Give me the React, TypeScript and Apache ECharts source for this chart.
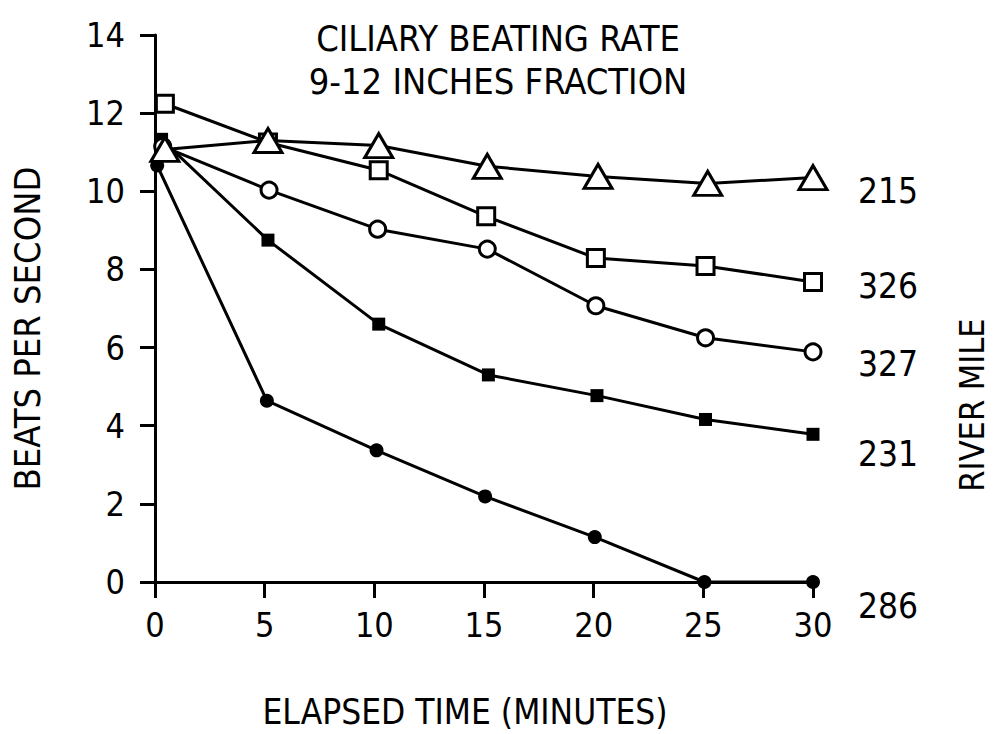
import React, { useEffect, useRef } from "react";
import * as echarts from "echarts";

const FONT = "'DejaVu Sans Condensed', 'Liberation Sans Narrow', sans-serif";

const titleLines = ["CILIARY BEATING RATE", "9-12 INCHES FRACTION"];
const xTicks = [0, 5, 10, 15, 20, 25, 30];
const yTicks = [0, 2, 4, 6, 8, 10, 12, 14];

// River mile 215 (open triangles)
const rm215: [number, number][] = [
  [0.45, 11.07], [5.15, 11.3], [10.2, 11.17], [15.15, 10.64], [20.2, 10.38], [25.2, 10.2], [30.0, 10.35],
];
// River mile 326 (open squares)
const rm326: [number, number][] = [
  [0.45, 12.24], [5.15, 11.25], [10.2, 10.54], [15.1, 9.36], [20.1, 8.29], [25.1, 8.09], [30.0, 7.68],
];
// River mile 327 (open circles)
const rm327: [number, number][] = [
  [0.35, 11.15], [5.2, 10.03], [10.15, 9.03], [15.15, 8.52], [20.1, 7.07], [25.1, 6.25], [30.0, 5.89],
];
// River mile 231 (filled squares)
const rm231: [number, number][] = [
  [0.3, 11.33], [5.15, 8.75], [10.2, 6.6], [15.2, 5.3], [20.15, 4.77], [25.1, 4.16], [30.0, 3.78],
];
// River mile 286 (filled circles)
const rm286: [number, number][] = [
  [0.1, 10.66], [5.1, 4.64], [10.1, 3.37], [15.05, 2.19], [20.05, 1.15], [25.05, 0], [30.0, 0],
];

const riverLabels = ["215", "326", "327", "231", "286"];
const riverLabelY = [192, 287, 365, 455, 607];

export default function App() {
  const ref = useRef<HTMLDivElement>(null);
  useEffect(() => {
    if (!ref.current) return;
    const chart = echarts.init(ref.current, undefined, { renderer: "svg" });
    const lineStyle = { color: "#000", width: 3 };
    const openItem = { color: "#fff", borderColor: "#000", borderWidth: 3 };
    const filledItem = { color: "#000", borderColor: "#000", borderWidth: 0 };
    const mk = (name: string, data: [number, number][], symbol: string, size: any, item: any) => ({
      name,
      type: "line",
      data,
      symbol,
      symbolSize: size,
      showAllSymbol: true,
      clip: false,
      lineStyle,
      itemStyle: item,
      emphasis: { disabled: true },
      z: 3,
    });
    chart.setOption({
      animation: false,
      backgroundColor: "#fff",
      title: {
        text: titleLines.join("\n"),
        left: 493,
        top: 12,
        textAlign: "center",
        textStyle: { fontFamily: FONT, fontSize: 36, fontWeight: "normal", color: "#000", lineHeight: 43 },
      },
      grid: { left: 155, right: 181, top: 35, bottom: 150 },
      xAxis: {
        type: "value",
        min: xTicks[0],
        max: xTicks[xTicks.length - 1],
        interval: 5,
        name: "ELAPSED TIME (MINUTES)",
        nameLocation: "middle",
        nameGap: 112,
        nameTextStyle: { fontFamily: FONT, fontSize: 35, color: "#000", padding: [0, 38, 0, 0] },
        axisLine: { show: true, lineStyle: { color: "#000", width: 3 } },
        axisTick: { show: true, length: 16, lineStyle: { color: "#000", width: 3 } },
        axisLabel: { fontFamily: FONT, fontSize: 34, color: "#000", margin: 26 },
        splitLine: { show: false },
      },
      yAxis: {
        type: "value",
        min: yTicks[0],
        max: yTicks[yTicks.length - 1],
        interval: 2,
        name: "BEATS PER SECOND",
        nameLocation: "middle",
        nameGap: 110,
        nameTextStyle: { fontFamily: FONT, fontSize: 36, color: "#000", padding: [0, 40, 0, 0] },
        axisLine: { show: true, lineStyle: { color: "#000", width: 3 } },
        axisTick: { show: true, length: 15, lineStyle: { color: "#000", width: 3 } },
        axisLabel: { fontFamily: FONT, fontSize: 34, color: "#000", margin: 30 },
        splitLine: { show: false },
      },
      graphic: [
        ...riverLabels.map((t, i) => ({
          type: "text",
          left: 858,
          top: riverLabelY[i] - 19,
          style: { text: t, fontFamily: FONT, fontSize: 35, fill: "#000" },
        })),
        {
          type: "text",
          x: 972,
          y: 405,
          rotation: Math.PI / 2,
          style: {
            text: "RIVER MILE",
            fontFamily: FONT,
            fontSize: 34,
            fill: "#000",
            align: "center",
            verticalAlign: "middle",
          },
        },
      ],
      series: [
        mk("286", rm286, "circle", 14, filledItem),
        mk("231", rm231, "rect", 13, filledItem),
        mk("327", rm327, "circle", 16, openItem),
        mk("326", rm326, "rect", 17, openItem),
        mk("215", rm215, "triangle", [28, 24], openItem),
      ],
    });
    return () => chart.dispose();
  }, []);
  return (
    <div
      ref={ref}
      style={{ position: "fixed", left: 0, top: 0, width: 994, height: 734, background: "#fff" }}
    />
  );
}
